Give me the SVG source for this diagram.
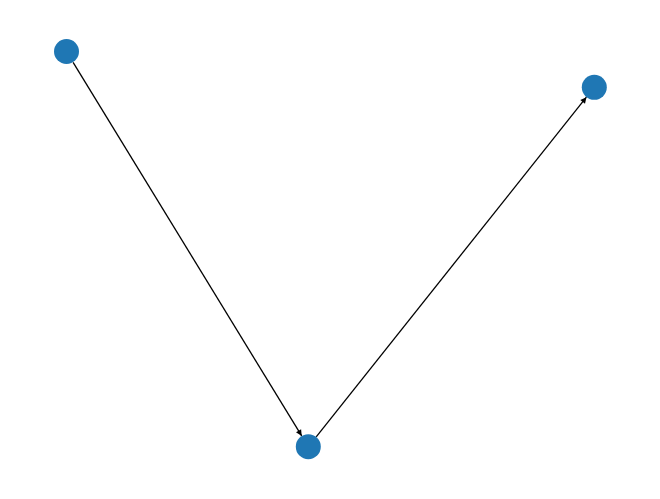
<svg xmlns="http://www.w3.org/2000/svg" width="660" height="499" viewBox="0 0 660 499">
<style>
.edge{stroke:#000;stroke-width:1.3;fill:none;marker-end:url(#arr)}
.node{fill:#1f77b4}
</style>
<defs>
<marker id="arr" markerUnits="userSpaceOnUse" viewBox="-1 -4 8 8" markerWidth="8" markerHeight="8" refX="6" refY="0" orient="auto">
<path d="M0,-3 L6,0 L0,3 z" fill="#000"/>
</marker>
</defs>
<rect width="660" height="499" fill="#fff"/>
<g id="edges">
<line class="edge" x1="73.1" y1="62.3" x2="301.7" y2="435.9"/>
<line class="edge" x1="316.2" y1="436.8" x2="586.4" y2="97.2"/>
</g>
<g id="n0"><circle class="node" cx="66.5" cy="51.5" r="12.5"/></g>
<g id="n1"><circle class="node" cx="308.3" cy="446.7" r="12.5"/></g>
<g id="n2"><circle class="node" cx="594.3" cy="87.3" r="12.5"/></g>
</svg>
